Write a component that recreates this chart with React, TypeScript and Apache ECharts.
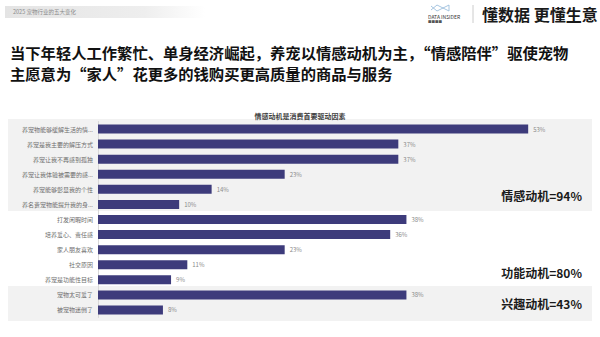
import React, { useEffect, useRef } from "react";
import * as echarts from "echarts";

const categories = [
  "养宠物能够缓解生活的情...",
  "养宠是我主要的解压方式",
  "养宠让我不再感到孤独",
  "养宠让我体验被需要的感...",
  "养宠能够彰显我的个性",
  "养名贵宠物能提升我的身...",
  "打发闲暇时间",
  "培养爱心、责任感",
  "家人朋友喜欢",
  "社交原因",
  "养宠是功能性目标",
  "宠物太可爱了",
  "被宠物迷倒了",
];
const values = [53, 37, 37, 23, 14, 10, 38, 36, 23, 11, 9, 38, 8];
const groupLabels = ["情感动机=94%", "功能动机=80%", "兴趣动机=43%"];
const headerTag = "2025 宠物行业的五大变化";
const slogan = "懂数据 更懂生意";
const titleLines = [
  "当下年轻人工作繁忙、单身经济崛起，养宠以情感动机为主，“情感陪伴”驱使宠物",
  "主愿意为“家人”花更多的钱购买更高质量的商品与服务",
];
const chartTitle = "情感动机是消费首要驱动因素";

const FONT = "'Noto Sans CJK SC', 'Noto Sans', sans-serif";

export default function App() {
  const ref = useRef<HTMLDivElement>(null);
  useEffect(() => {
    document.body.style.margin = "0";
    const chart = echarts.init(ref.current!, null, { renderer: "svg" });
    chart.setOption({
      animation: false,
      backgroundColor: "#ffffff",
      textStyle: { fontFamily: FONT },
      title: {
        text: chartTitle,
        left: "center",
        top: 107,
        textStyle: { fontSize: 7, color: "#404040", fontWeight: "bold", fontFamily: FONT },
      },
      graphic: [
        {
          type: "rect",
          shape: { x: 5, y: 6, width: 200, height: 12 },
          style: {
            fill: new echarts.graphic.LinearGradient(0, 0, 1, 0, [
              { offset: 0, color: "#e4e4e4" },
              { offset: 0.7, color: "#eeeeee" },
              { offset: 1, color: "#ffffff" },
            ]),
          },
          z: 0,
        },
        {
          type: "text",
          x: 13,
          y: 12,
          style: { text: headerTag, fontSize: 5.5, fill: "#8c8c8c", fontFamily: FONT, verticalAlign: "middle" },
        },
        {
          type: "polyline",
          shape: { points: [[431, 6], [437, 11], [443, 8], [449, 11], [449, 5], [443, 8], [437, 5], [431, 10]] },
          style: { stroke: "#8fb6d8", lineWidth: 0.8, fill: "none" },
        },
        {
          type: "text",
          x: 428,
          y: 16,
          style: { text: "DATA INSIDER", fontSize: 5, fill: "#333", fontFamily: FONT, verticalAlign: "middle" },
        },
        {
          type: "text",
          x: 428,
          y: 21,
          style: { text: "■■■■", fontSize: 3.5, fill: "#555", fontFamily: FONT, verticalAlign: "middle" },
        },
        {
          type: "line",
          shape: { x1: 473, y1: 5, x2: 473, y2: 23 },
          style: { stroke: "#bfbfbf", lineWidth: 0.8 },
        },
        {
          type: "text",
          x: 482,
          y: 14,
          style: { text: slogan, fontSize: 16, fontWeight: "bold", fill: "#1a1a1a", fontFamily: FONT, verticalAlign: "middle" },
        },
        {
          type: "text",
          x: 10,
          y: 52,
          style: { text: titleLines[0], fontSize: 15.3, fontWeight: "bold", fill: "#111", fontFamily: FONT, verticalAlign: "middle" },
        },
        {
          type: "text",
          x: 10,
          y: 73,
          style: { text: titleLines[1], fontSize: 15.3, fontWeight: "bold", fill: "#111", fontFamily: FONT, verticalAlign: "middle" },
        },
        {
          type: "rect",
          shape: { x: 8, y: 119, width: 584, height: 92 },
          style: { fill: "#f2f2f2" },
          z: -10,
        },
        {
          type: "rect",
          shape: { x: 8, y: 286, width: 584, height: 35 },
          style: { fill: "#f2f2f2" },
          z: -10,
        },
        {
          type: "text",
          x: 582,
          y: 195,
          style: { text: groupLabels[0], fontSize: 12, fontWeight: "bold", fill: "#1a1a1a", fontFamily: FONT, align: "right", verticalAlign: "middle" },
        },
        {
          type: "text",
          x: 582,
          y: 272,
          style: { text: groupLabels[1], fontSize: 12, fontWeight: "bold", fill: "#1a1a1a", fontFamily: FONT, align: "right", verticalAlign: "middle" },
        },
        {
          type: "text",
          x: 582,
          y: 303,
          style: { text: groupLabels[2], fontSize: 12, fontWeight: "bold", fill: "#1a1a1a", fontFamily: FONT, align: "right", verticalAlign: "middle" },
        },
      ],
      grid: { left: 98, top: 121.5, width: 487, height: 196, containLabel: false },
      xAxis: {
        type: "value",
        min: 0,
        max: 60,
        show: false,
      },
      yAxis: {
        type: "category",
        data: categories,
        inverse: true,
        axisLine: { show: true, lineStyle: { color: "#d9d9d9", width: 1 } },
        axisTick: { show: false },
        axisLabel: { fontSize: 6, color: "#6e6e6e", margin: 5, fontFamily: FONT },
      },
      series: [
        {
          type: "bar",
          data: values,
          barWidth: 9,
          itemStyle: { color: "#3d3b7b" },
          label: {
            show: true,
            position: "right",
            distance: 5,
            formatter: "{c}%",
            fontSize: 6,
            color: "#8a8a8a",
            fontFamily: FONT,
          },
        },
      ],
    });
    return () => chart.dispose();
  }, []);
  return <div ref={ref} style={{ position: "absolute", left: 0, top: 0, width: 600, height: 337 }} />;
}
